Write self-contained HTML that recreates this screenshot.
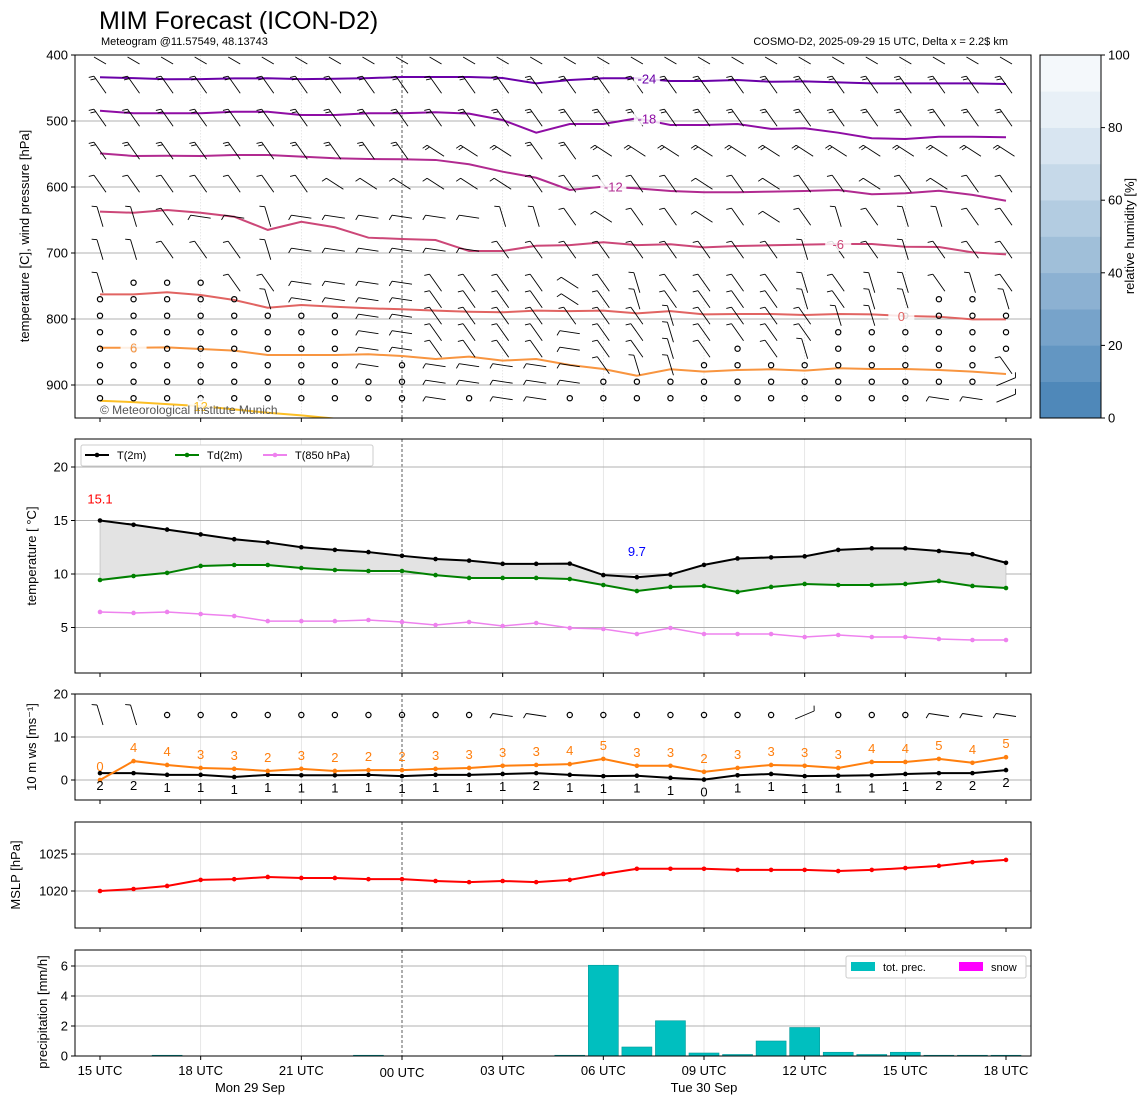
<!DOCTYPE html>
<html><head><meta charset="utf-8"><style>
body{margin:0;background:#fff;}
svg{display:block;font-family:"Liberation Sans","DejaVu Sans",sans-serif;}
</style></head><body>
<svg id="chart" width="1148" height="1105" viewBox="0 0 1148 1105" xmlns="http://www.w3.org/2000/svg">
<text x="99" y="29" font-size="25">MIM Forecast (ICON-D2)</text>
<text x="101" y="45" font-size="11">Meteogram @11.57549, 48.13743</text>
<text x="1008" y="45" font-size="11" text-anchor="end">COSMO-D2, 2025-09-29 15 UTC, Delta x = 2.2$ km</text>
<g id="g"></g>
</svg>
<script>
const hours=['15 UTC','18 UTC','21 UTC','00 UTC','03 UTC','06 UTC','09 UTC','12 UTC','15 UTC','18 UTC'];
const rhTicks=[0,20,40,60,80,100];
const pTicks=[400,500,600,700,800,900];
const isoLevels=[-24,-18,-12,-6,0,6,12];
const iso_m24=[433.8,435,436.8,436.5,435.5,435.3,436.5,436,435,433.4,433.4,433.4,434.8,443,437.9,435.3,435.3,439.4,439.4,437.9,440.5,440,441.4,443,443,443,443,443.9];
const iso_m18=[484.4,488.3,488.3,488.3,485.9,485.9,490.9,490.9,488.3,488.3,486.8,488.9,498.5,517.7,504.5,504.5,495.9,506,506,504.5,512,511,517.7,526.2,527.3,523.8,523.8,524.7];
const iso_m12=[549,553,552.6,553,551.5,551.5,554,556.5,557.6,558,559,565.6,576.8,586,604.5,599.5,602,606,608,608,607,606,604.5,611,609.5,605.6,612,620.8];
const iso_m6=[637.4,639,634.8,639,645,665,652.6,661,676.8,678.8,680.3,697,697,689,688,683.8,688,686.8,691.4,689.4,688.3,687.4,686.4,686.4,690.5,691,699,702];
const iso_0=[762.6,762.6,759.5,763.6,771.2,782.9,778.8,781.4,783.8,785.3,787.4,789,789.8,787.4,788,787.4,791.4,788,792.9,792.4,792.4,794,792.4,792.9,795.5,796.5,800.5,800.5];
const iso_6=[843.5,843.5,843,845.5,848,854.5,854.5,854.5,853.5,856,860.6,857,863,860.6,869.7,875.8,886,876.2,879.8,877.3,876.2,878.3,874.7,875.8,875.8,877.3,879.8,883.3];
const iso_12=[923.8,926,929,932,937,942,946,951];
const windLevels=[403,445,495,545,595,645,695,745,770,795,820,845,870,895,920];
const windCodes=[
'dddddddddddddddddddddddddddd',
'dddddddddddddddddddddddddddd',
'dddddddddddddddddddddddddddd',
'ddddddddddfffddfffffffffffff',
'dddddddffffffdddddfdfddfdfdd',
'ssdhhshhhhhhssdfddfdfdsdssdd',
'ssdddshhhhhhdddddddddsddsddd',
'soooddhhhhddddfdsddddsdssdsd',
'oooooshhhhddddfdsddddsdssoos',
'oooooooohhdddddddsddddssoooo',
'oooooooohhddddhddsddddoooooo',
'oooooooohhddddhddsdodsoooooo',
'oooooooohohhhhhdssoooooooood',
'oooooooooohhhhhooooooooooooa',
'oooooooooohohhooooooooooohha'];
const wind10Codes='ssoooooooooohhoooooooaooohhhaa'.slice(0,28);
const T2=[15.0,14.6,14.15,13.7,13.25,12.95,12.5,12.25,12.05,11.7,11.4,11.25,10.95,10.95,10.97,9.9,9.7,9.95,10.85,11.45,11.55,11.65,12.25,12.4,12.4,12.15,11.85,11.05];
const Td2=[9.44,9.81,10.1,10.75,10.84,10.84,10.56,10.37,10.28,10.28,9.9,9.63,9.63,9.63,9.53,8.97,8.41,8.79,8.88,8.32,8.79,9.07,8.97,8.97,9.07,9.35,8.88,8.69];
const T850=[6.45,6.36,6.45,6.26,6.07,5.6,5.6,5.6,5.7,5.51,5.23,5.51,5.14,5.42,4.95,4.86,4.39,4.95,4.39,4.39,4.39,4.11,4.3,4.11,4.11,3.93,3.83,3.83];
const tTicks=[5,10,15,20];
const gust=[0,4.4,3.5,2.8,2.6,2.1,2.6,2.1,2.3,2.3,2.6,2.8,3.3,3.5,3.7,4.9,3.3,3.3,1.9,2.8,3.5,3.3,2.8,4.2,4.2,4.9,4.0,5.3];
const gustLbl=[0,4,4,3,3,2,3,2,2,2,3,3,3,3,4,5,3,3,2,3,3,3,3,4,4,5,4,5];
const ws=[1.6,1.6,1.2,1.2,0.7,1.2,1.1,1.1,1.2,0.9,1.2,1.2,1.4,1.6,1.2,0.9,1.0,0.5,0.1,1.1,1.4,0.9,1.0,1.1,1.4,1.6,1.6,2.3];
const wsLbl=[2,2,1,1,1,1,1,1,1,1,1,1,1,2,1,1,1,1,0,1,1,1,1,1,1,2,2,2];
const wTicks=[0,10,20];
const mslp=[1020.0,1020.27,1020.68,1021.5,1021.6,1021.9,1021.76,1021.76,1021.6,1021.6,1021.35,1021.2,1021.35,1021.2,1021.5,1022.3,1023.0,1023.0,1023.0,1022.85,1022.85,1022.85,1022.7,1022.85,1023.1,1023.4,1023.9,1024.2];
const mTicks=[1020,1025];
const precip=[0,0,0.05,0,0,0,0,0,0.05,0,0,0,0,0,0.05,6.05,0.6,2.35,0.2,0.1,1.0,1.9,0.25,0.1,0.25,0.05,0.05,0.05];
const rTicks=[0,2,4,6];

const NS='http://www.w3.org/2000/svg';
const G=document.getElementById('g');
function el(tag,attrs,parent,txt){const e=document.createElementNS(NS,tag);for(const k in attrs)e.setAttribute(k,attrs[k]);if(txt!==undefined)e.textContent=txt;(parent||G).appendChild(e);return e;}
const X0=75,X1=1031;
const xc=i=>100+i*(906/27);
const yP=p=>55+(p-400)*0.66;
const yT=t=>467+(20-t)*10.7;
const yW=v=>780-v*4.3;
const yM=m=>891-(m-1020)*7.4;
const yR=r=>1056-r*15;
const panels=[['pressure-panel',55,418],['temperature-panel',439,673],['wind-panel',694,800],['mslp-panel',822,928],['precip-panel',950,1056]];

panels.forEach(([nm,t,b])=>{
  const g=el('g',{});
  
  
  for(let k=1;k<9;k++){const x=xc(k*3);if(k===3)continue;
    const l=el('line',{x1:x,x2:x,y1:t,y2:b,stroke:'#ddd','stroke-width':0.7,'stroke-dasharray':nm==='pressure-panel'?'1.5,1.5':'none'},g);
    }
  const d=el('line',{x1:xc(9),x2:xc(9),y1:t,y2:b,stroke:'#333','stroke-width':0.8,'stroke-dasharray':'3,2'},g);
  
  for(let k=0;k<10;k++){const tk=el('line',{x1:xc(k*3),x2:xc(k*3),y1:b,y2:b+4,stroke:'#000'},g);}
});
function yAxis(ticks,fy,t,b,title,cy,tx){
  ticks.forEach(v=>{const y=fy(v);
    const gl=el('line',{x1:X0,x2:X1,y1:y,y2:y,stroke:'#b0b0b0','stroke-width':1});
    el('line',{x1:X0-4,x2:X0,y1:y,y2:y,stroke:'#000'});
    const l=el('text',{x:X0-7,y:y+4.5,'font-size':13,'text-anchor':'end'},G,String(v));});
  const tt=el('text',{x:tx,y:cy,'font-size':13,'text-anchor':'middle',transform:`rotate(-90 ${tx} ${cy})`},G,title);
  
}
yAxis(pTicks,yP,55,418,'temperature [C], wind pressure [hPa]',236,29);
yAxis(tTicks,yT,439,673,'temperature [ °C]',556,36);
yAxis(wTicks,yW,694,800,'10 m ws [ms⁻¹]',747,36);
yAxis(mTicks,yM,822,928,'MSLP [hPa]',875,20);
yAxis(rTicks,yR,950,1056,'precipitation [mm/h]',1012,47);

// barbs
const vec={d:[-12,-17],s:[-6,-20],f:[-17,-11],h:[-20,-3],a:[19,-8]};
function barb(x,y,c,ticks){
  if(c==='o'){const ci=el('circle',{cx:x,cy:y,r:2.6,fill:'none',stroke:'#000','stroke-width':1.2});return;}
  const v=vec[c];const x1=x-v[0]/2,y1=y-v[1]/2,x2=x+v[0]/2,y2=y+v[1]/2;
  let d=`M${x1},${y1}L${x2},${y2}`;
  const L=Math.hypot(v[0],v[1]);const ux=v[0]/L,uy=v[1]/L;
  let px=-uy,py=ux; if(px>0){px=-px;py=-py;}
  for(let k=0;k<ticks;k++){const bx=x2-ux*k*3,by=y2-uy*k*3;d+=`M${bx},${by}l${px*5+ux*2},${py*5+uy*2}`;}
  const p=el('path',{d,stroke:'#000','stroke-width':0.9,fill:'none'});
  
}

// isotherms
const isoData=[iso_m24,iso_m18,iso_m12,iso_m6,iso_0,iso_6,iso_12];
const isoColors=['#6a00a8','#8f0da4','#b12a90','#cc4778','#e16462','#f89540','#fcbf25'];
const isoLblCol=[16,16,15,22,24,1,3];
const clip=el('clipPath',{id:'cp'});el('rect',{x:X0,y:55,width:X1-X0,height:363},clip);
isoData.forEach((arr,j)=>{
  const pts=arr.map((p,i)=>xc(i)+','+yP(p)).join(' ');
  const pl=el('polyline',{points:pts,fill:'none',stroke:isoColors[j],'stroke-width':2,'clip-path':'url(#cp)'});
  
});
windLevels.forEach((p,r)=>{for(let i=0;i<28;i++){const y=yP(p);if(r===0){el('path',{d:`M${xc(i)-6},${57}L${xc(i)+6},${64}`,stroke:'#000','stroke-width':0.9});continue;}barb(xc(i),y,windCodes[r][i],r<4?2:1);}});
isoData.forEach((arr,j)=>{
  const li=isoLblCol[j];const lx=xc(li)+(j===4?-4:j<3?10:0);const ly=yP(arr[Math.min(li,arr.length-1)]);
  el('rect',{x:lx-13,y:ly-8,width:26,height:15,fill:'#fff','fill-opacity':0.85});
  const t=el('text',{x:lx,y:ly+5,'font-size':13,'text-anchor':'middle',fill:isoColors[j]},G,String(isoLevels[j]));
  
});
const cr=el('text',{x:100,y:414,'font-size':12,fill:'#555'},G,'© Meteorological Institute Munich');

for(let i=0;i<28;i++)barb(xc(i),715,wind10Codes[i]||'o',1);

// colorbar
const cbc=['#4f88b9','#6396c2','#77a3ca','#8cb1d2','#a0bfd9','#b3cce1','#c6d9e9','#d8e5f1','#e8f0f7','#f4f8fb'];
cbc.forEach((c,k)=>{const r=el('rect',{x:1040,y:418-(k+1)*36.3,width:61,height:36.6,fill:c});});
el('rect',{x:1040,y:55,width:61,height:363,fill:'none',stroke:'#000'});
rhTicks.forEach(v=>{const y=418-v*3.63;el('line',{x1:1101,x2:1105,y1:y,y2:y,stroke:'#000'});const t=el('text',{x:1108,y:y+4.5,'font-size':13},G,String(v));});
const rt=el('text',{x:1134,y:236,'font-size':13,'text-anchor':'middle',transform:'rotate(-90 1134 236)'},G,'relative humidity [%]');


// panel 2
const fillPts=T2.map((t,i)=>xc(i)+','+yT(t)).concat(Td2.map((t,i)=>xc(i)+','+yT(t)).reverse()).join(' ');
const fp=el('polygon',{points:fillPts,fill:'#e3e3e3',stroke:'#aaa','stroke-width':0.5});
function series(arr,fy,col,nm,w){const pl=el('polyline',{points:arr.map((v,i)=>xc(i)+','+fy(v)).join(' '),fill:'none',stroke:col,'stroke-width':w||2});
  
  arr.forEach((v,i)=>{const c=el('circle',{cx:xc(i),cy:fy(v),r:2.3,fill:col});});}
series(T850,yT,'#ee82ee','t850-line',1.5);
series(Td2,yT,'#008000','td2m-line');
series(T2,yT,'#000','t2m-line');
let mi=0,ma=0;T2.forEach((v,i)=>{if(v<T2[mi])mi=i;if(v>T2[ma])ma=i;});
const mxl=el('text',{x:xc(ma),y:yT(T2[ma])-17,'font-size':13,'text-anchor':'middle',fill:'red'},G,(T2[ma]+0.1).toFixed(1));
const mnl=el('text',{x:xc(mi),y:yT(T2[mi])-21,'font-size':13,'text-anchor':'middle',fill:'blue'},G,T2[mi].toFixed(1));
const lg=el('g',{});
el('rect',{x:81,y:445,width:292,height:21,fill:'#fff',stroke:'#ccc',rx:2},lg);
[['T(2m)','#000',85],['Td(2m)','#008000',175],['T(850 hPa)','#ee82ee',263]].forEach(([n,c,x])=>{
  el('line',{x1:x,x2:x+24,y1:455,y2:455,stroke:c,'stroke-width':2},lg);el('circle',{cx:x+12,cy:455,r:2.3,fill:c},lg);
  const t=el('text',{x:x+32,y:459,'font-size':11},lg,n);});

// panel 3
series(ws,yW,'#000','wind-speed-line');
series(gust,yW,'#ff7f0e','wind-gust-line');
gust.forEach((v,i)=>{const t=el('text',{x:xc(i),y:yW(v)-9,'font-size':13,'text-anchor':'middle',fill:'#ff7f0e'},G,String(gustLbl[i]));});
ws.forEach((v,i)=>{const t=el('text',{x:xc(i),y:yW(v)+17,'font-size':13,'text-anchor':'middle',fill:'#000'},G,String(wsLbl[i]));});

// panel 4
series(mslp,yM,'red','mslp-line');

// panel 5
precip.forEach((v,i)=>{if(v<=0)return;const r=el('rect',{x:xc(i)-15,y:yR(v),width:30,height:1056-yR(v),fill:'#00bfbf',stroke:'#009999','stroke-width':0.6});});
const pl2=el('g',{});
el('rect',{x:846,y:956,width:180,height:22,fill:'#fff',stroke:'#ccc',rx:2},pl2);
el('rect',{x:851,y:962,width:24,height:9,fill:'#00bfbf'},pl2);
el('text',{x:883,y:971,'font-size':11},pl2,'tot. prec.');
el('rect',{x:959,y:962,width:24,height:9,fill:'#ff00ff'},pl2);
el('text',{x:991,y:971,'font-size':11},pl2,'snow');

panels.forEach(([nm,t,b])=>{el('rect',{x:X0,y:t,width:X1-X0,height:b-t,fill:'none',stroke:'#000','stroke-width':1});});

hours.forEach((h,k)=>{const t=el('text',{x:xc(k*3),y:k===3?1077:1075,'font-size':13,'text-anchor':'middle'},G,h);});
[['Mon 29 Sep',250],['Tue 30 Sep',704]].forEach(([s,x])=>{const t=el('text',{x,y:1092,'font-size':13,'text-anchor':'middle'},G,s);});
</script>
</body></html>
